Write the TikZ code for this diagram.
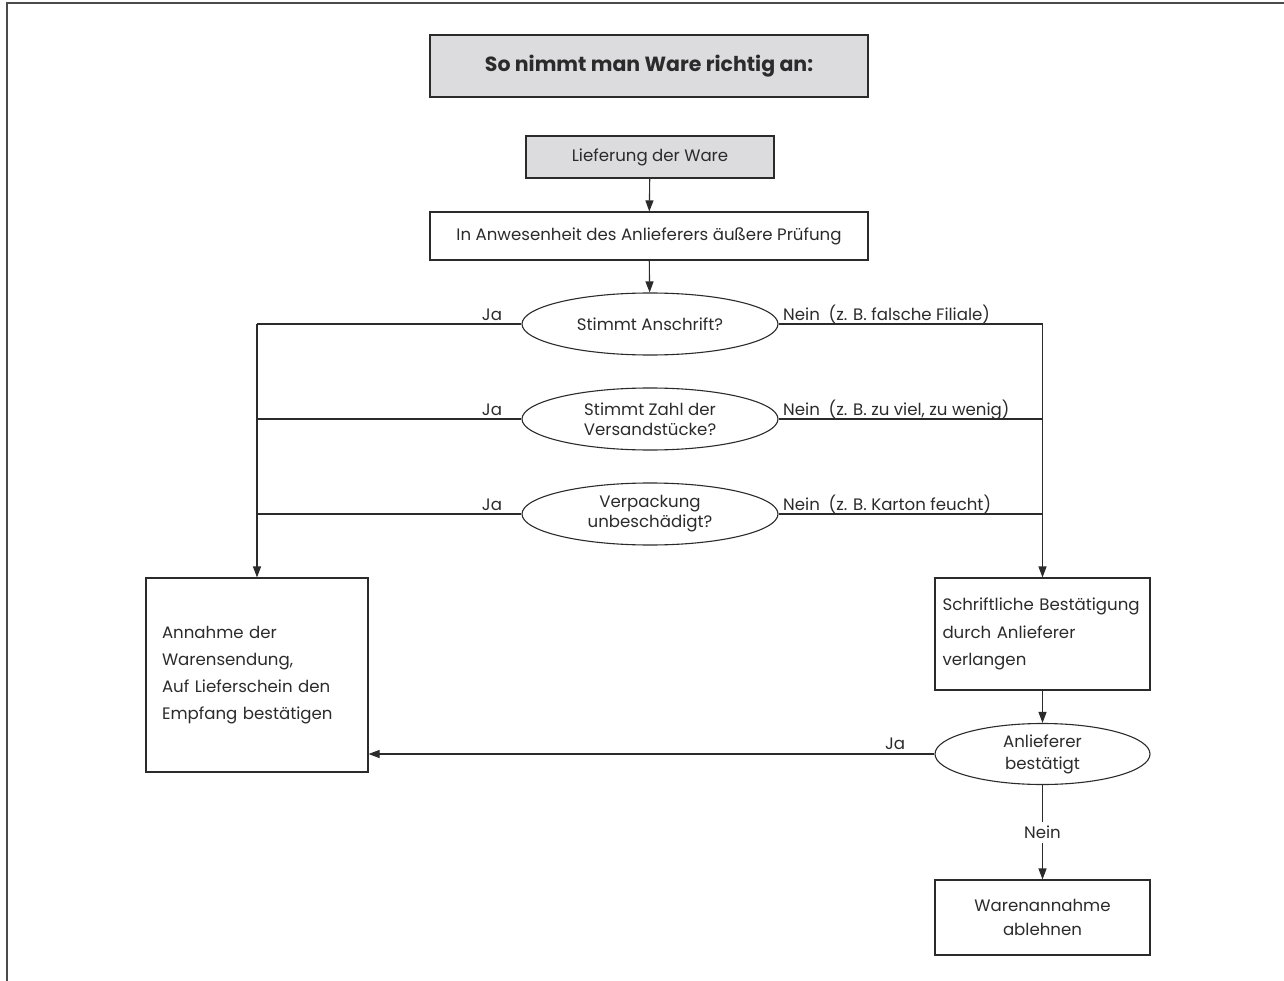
\documentclass[tikz,border=0pt]{standalone}
\usepackage{fontspec}
\setmainfont{Poppins}
\usetikzlibrary{shapes.geometric,arrows.meta}
\definecolor{boxgray}{HTML}{DCDCDE}
\definecolor{ink}{HTML}{2B2B2B}
\begin{document}
\begin{tikzpicture}[x=1pt,y=-1pt, font=\fontsize{16.6}{20}\selectfont, text=ink,
  box/.style={draw=ink, line width=1.1pt, rectangle, inner sep=0pt},
  dec/.style={draw=ink, line width=1.1pt, ellipse, minimum width=256pt, minimum height=62pt, inner sep=0pt, align=center},
  conn/.style={draw=ink, line width=1.1pt},
  arr/.style={conn, -{Triangle[length=11pt,width=8pt]}},
  lab/.style={anchor=base, inner sep=0pt},
  labw/.style={anchor=base west, inner sep=0pt}]
\useasboundingbox (0,0) rectangle (1284,981);
\draw[line width=2pt, draw=ink!85] (1284,3) -- (7,3) -- (7,981);

\node[box, fill=boxgray, minimum width=438pt, minimum height=62pt, font=\fontsize{20.5}{24}\selectfont\bfseries] (title) at (649,66) {So nimmt man Ware richtig an:};
\node[box, fill=boxgray, minimum width=248pt, minimum height=42pt] (lief) at (650,157) {Lieferung der Ware};
\node[box, minimum width=438pt, minimum height=48pt] (pruef) at (649,236) {In Anwesenheit des Anlieferers äußere Prüfung};
\node[dec] (e1) at (650,324) {Stimmt Anschrift?};
\node[dec] (e2) at (650,419) {Stimmt Zahl der\\Versandstücke?};
\node[dec] (e3) at (650,514) {Verpackung\\unbeschädigt?};
\node[box, minimum height=194pt, text width=190pt, inner xsep=16pt, align=left, font=\fontsize{16.6}{27}\selectfont] (ann) at (257,675) {Annahme der\\Warensendung,\\Auf Lieferschein den\\Empfang bestätigen};
\node[box, minimum height=112pt, text width=200pt, inner xsep=7.5pt, align=left, font=\fontsize{16.6}{27.5}\selectfont] (schrift) at (1042.5,634) {Schriftliche Bestätigung\\durch Anlieferer\\verlangen};
\node[dec, minimum width=215pt, minimum height=61pt, font=\fontsize{16.6}{22}\selectfont] (e4) at (1042.5,754) {Anlieferer\\bestätigt};
\node[box, minimum width=215pt, minimum height=75pt, align=center, font=\fontsize{16.6}{24}\selectfont] (war) at (1042.5,917.5) {Warenannahme\\ablehnen};

\coordinate (L1) at (ann.north |- e1.west);
\coordinate (L2) at (ann.north |- e2.west);
\coordinate (L3) at (ann.north |- e3.west);
\coordinate (R1) at (schrift.north |- e1.east);
\coordinate (R2) at (schrift.north |- e2.east);
\coordinate (R3) at (schrift.north |- e3.east);

\draw[arr] (lief) -- (pruef);
\draw[arr] (pruef) -- (e1);
\draw[conn] (e1.west) -- (L1);
\draw[conn] (e2.west) -- (L2);
\draw[conn] (e3.west) -- (L3);
\draw[arr] (L1) -- (ann.north);
\draw[conn] (e1.east) -- (R1);
\draw[conn] (e2.east) -- (R2);
\draw[conn] (e3.east) -- (R3);
\draw[arr] (R1) -- (schrift.north);
\draw[arr] (schrift) -- (e4);
\draw[arr] (e4.west) -- (e4.west -| ann.east);
\draw[arr] (e4) -- node[fill=white, inner sep=4pt] (nein4) {Nein} (war);

\node[lab] (ja1) at (492,320) {Ja};
\node[lab] (ja2) at (492,415) {Ja};
\node[lab] (ja3) at (492,510) {Ja};
\node[lab] (ja4) at (895,749) {Ja};
\node[labw] (n1) at (783,320) {Nein\ \ (z. B. falsche Filiale)};
\node[labw] (n2) at (783,415) {Nein\ \ (z. B. zu viel, zu wenig)};
\node[labw] (n3) at (783,510) {Nein\ \ (z. B. Karton feucht)};
\end{tikzpicture}
\end{document}
